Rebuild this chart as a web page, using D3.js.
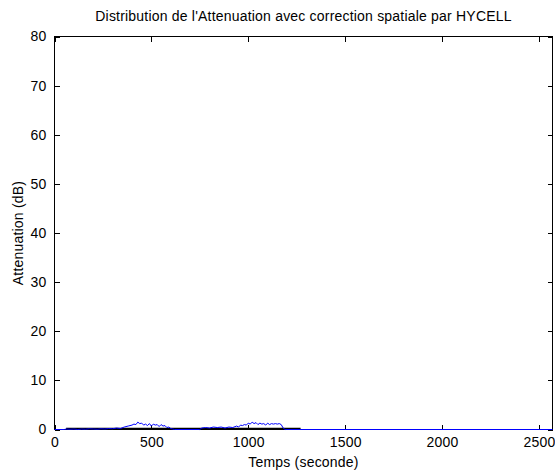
<!DOCTYPE html>
<html>
<head>
<meta charset="utf-8">
<script src="https://cdn.jsdelivr.net/npm/d3@7"></script>
<style>
  html, body { margin: 0; padding: 0; background: #fff; }
  svg { display: block; }
  text { font-family: "Liberation Sans", Arial, Helvetica, sans-serif; fill: #000; }
</style>
</head>
<body>
<svg id="chart" width="555" height="470"></svg>
<script>
// Attenuation over time (seconds, dB)
const timeSec = [0, 50, 60, 80, 100, 120, 140, 160, 180, 200, 220, 240, 260, 280, 300, 320, 340, 360, 380, 400,
  410, 420, 430, 440, 450, 460, 470, 480, 490, 500, 510, 520, 530, 540, 550, 560, 570, 580, 590, 600,
  610, 620, 750, 760, 780, 800, 820, 840, 860, 880, 900, 920, 940, 950, 960, 970, 980, 990, 1000, 1010,
  1020, 1030, 1040, 1050, 1060, 1070, 1080, 1090, 1100, 1110, 1120, 1130, 1140, 1150, 1160, 1170, 1180, 1190, 2570];
const attenuationDb = [0, 0, 0.1, 0.05, 0.1, 0, 0.1, 0.05, 0.15, 0.1, 0.05, 0.15, 0.1, 0.2, 0.15, 0.3, 0.2, 0.5, 0.7, 0.9,
  1.1, 1.0, 1.5, 1.2, 1.3, 0.9, 1.1, 0.8, 1.2, 0.7, 1.1, 0.9, 1.0, 0.6, 1.0, 0.7, 0.8, 0.4, 0.5, 0.2,
  0.1, 0, 0, 0.3, 0.4, 0.3, 0.5, 0.4, 0.5, 0.3, 0.5, 0.4, 0.7, 0.5, 0.9, 0.8, 1.0, 0.9, 1.3, 1.1,
  1.5, 1.2, 1.4, 1.0, 1.3, 1.1, 1.2, 0.9, 1.3, 1.0, 1.2, 1.1, 1.2, 1.1, 1.2, 1.0, 0.3, 0, 0];

// Reference trace (near-zero level over the measurement window)
const refTime = [60, 1270];
const refDb = [0.2, 0.2];

const xTicks = [0, 500, 1000, 1500, 2000, 2500];
const yTicks = [0, 10, 20, 30, 40, 50, 60, 70, 80];
const xDomain = [0, 2570];
const yDomain = [0, 80];

const titleText = "Distribution de l'Attenuation avec correction spatiale par HYCELL";
const xLabel = "Temps (seconde)";
const yLabel = "Attenuation (dB)";

const W = 555, H = 470;
const margin = { left: 54.5, top: 36.5, right: 2.5, bottom: 40.5 };
const svg = d3.select("#chart");
const x = d3.scaleLinear().domain(xDomain).range([margin.left, W - margin.right]);
const y = d3.scaleLinear().domain(yDomain).range([H - margin.bottom, margin.top]);

const tickLen = 5;
const fs = "14px";
const ls = "0.2px";

// Axes (inward ticks, mirrored on all sides)
const gB = svg.append("g").attr("transform", `translate(0,${y(0)})`)
  .call(d3.axisBottom(x).tickValues(xTicks).tickSizeInner(-tickLen).tickSizeOuter(0).tickPadding(8).tickFormat(d3.format("d")));
const gT = svg.append("g").attr("transform", `translate(0,${y(80)})`)
  .call(d3.axisTop(x).tickValues(xTicks).tickSizeInner(-tickLen).tickSizeOuter(0).tickFormat(""));
const gL = svg.append("g").attr("transform", `translate(${x(xDomain[0])},0)`)
  .call(d3.axisLeft(y).tickValues(yTicks).tickSizeInner(-tickLen).tickSizeOuter(0).tickPadding(8).tickFormat(d3.format("d")));
const gR = svg.append("g").attr("transform", `translate(${x(xDomain[1])},0)`)
  .call(d3.axisRight(y).tickValues(yTicks).tickSizeInner(-tickLen).tickSizeOuter(0).tickFormat(""));

[gB, gT, gL, gR].forEach(g => {
  g.select(".domain").remove();
  g.selectAll("line").attr("stroke", "#000").attr("shape-rendering", "crispEdges");
  g.selectAll("text").style("font-size", fs).style("letter-spacing", ls).attr("fill", "#000");
});

// Plot box
svg.append("rect")
  .attr("x", x(xDomain[0])).attr("y", y(80))
  .attr("width", x(xDomain[1]) - x(xDomain[0])).attr("height", y(0) - y(80))
  .attr("fill", "none").attr("stroke", "#000").attr("stroke-width", 1)
  .attr("shape-rendering", "crispEdges");

const line = d3.line().x(d => x(d[0])).y(d => y(d[1]));

// Reference trace
svg.append("path")
  .datum(refTime.map((t, i) => [t, refDb[i]]))
  .attr("d", line).attr("fill", "none").attr("stroke", "#000").attr("stroke-width", 1.5);

// Attenuation series
svg.append("path")
  .datum(timeSec.map((t, i) => [t, attenuationDb[i]]))
  .attr("d", line).attr("fill", "none").attr("stroke", "#0000ff").attr("stroke-width", 1);

// Titles
const cx = (x(xDomain[0]) + x(xDomain[1])) / 2;
svg.append("text").attr("x", cx).attr("y", 21)
  .attr("text-anchor", "middle").style("font-size", fs).style("letter-spacing", ls).text(titleText);
svg.append("text").attr("x", cx).attr("y", 467)
  .attr("text-anchor", "middle").style("font-size", fs).style("letter-spacing", ls).text(xLabel);
svg.append("text")
  .attr("transform", `translate(23,${(y(0) + y(80)) / 2}) rotate(-90)`)
  .attr("text-anchor", "middle").style("font-size", fs).style("letter-spacing", ls).text(yLabel);
</script>
</body>
</html>
